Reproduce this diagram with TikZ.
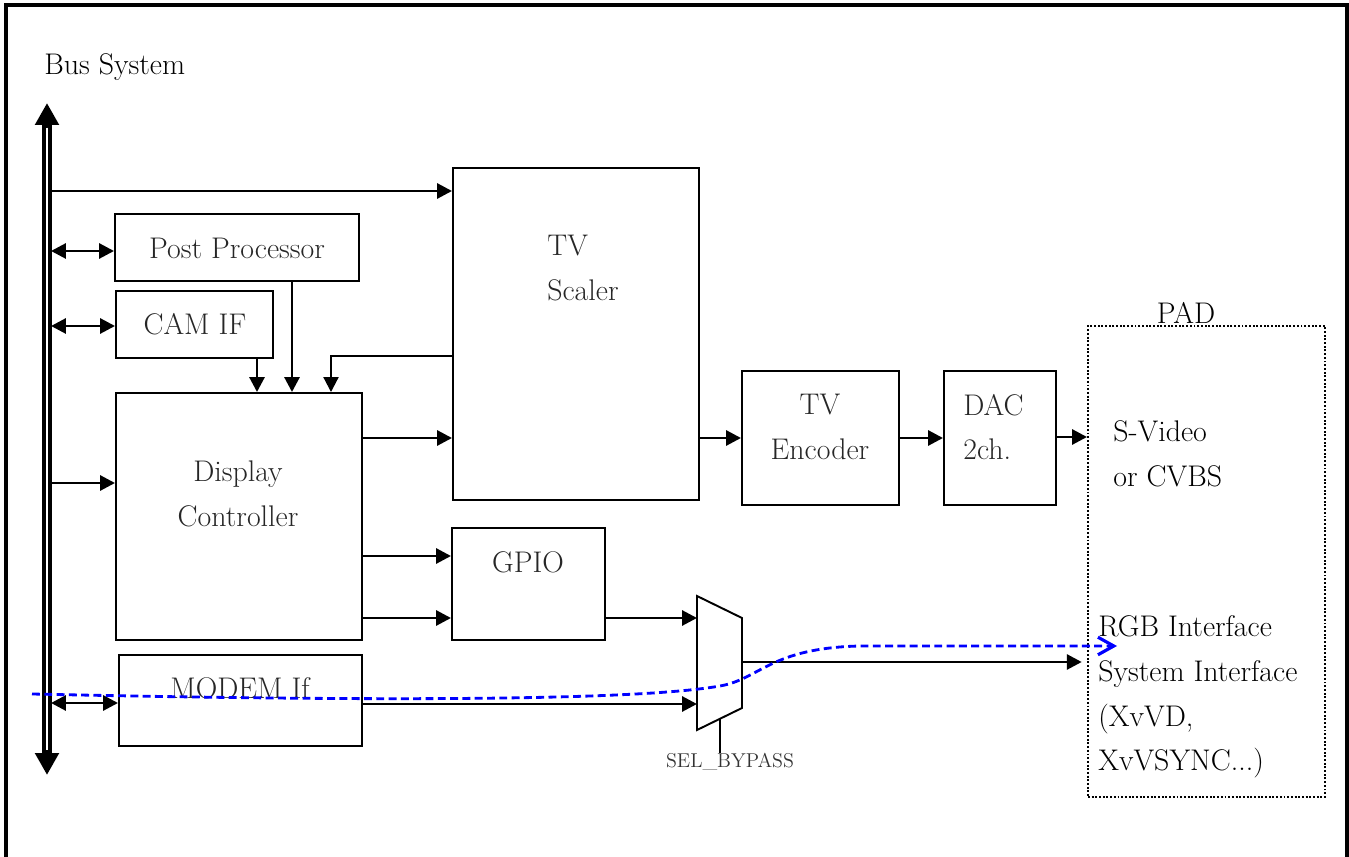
\documentclass[tikz,border=0pt]{standalone}
\usepackage{tikz}
\usetikzlibrary{arrows.meta,positioning,fit,calc}
\tikzset{
  box/.style={draw, line width=1.1pt, inner sep=0pt},
  lbl/.style={font=\fontsize{17}{25.5}\selectfont, text=black!85, inner sep=0pt, align=center},
  padtxt/.style={font=\fontsize{17}{25.5}\selectfont, inner sep=0pt, align=left, anchor=west},
  arr/.style={-{Triangle[length=8.5pt,width=8.5pt]}, line width=1.7pt},
  darr/.style={{Triangle[length=8.5pt,width=8.5pt]}-{Triangle[length=8.5pt,width=8.5pt]}, line width=1.7pt},
  bus/.style={{Triangle[length=12.5pt,width=13pt]}-{Triangle[length=12.5pt,width=13pt]}, line width=5.5pt},
  bypass/.style={blue, line width=1.6pt, dash pattern=on 4.5pt off 2.5pt, -{Straight Barb[length=9pt,width=10pt,line width=1.8pt]}}
}
\begin{document}
\begin{tikzpicture}[x=0.02cm, y=-0.02cm]
  \useasboundingbox (0,0) rectangle (1349,857);
  \draw[line width=2pt] (6,857) -- (6,5) -- (1347,5) -- (1347,857);

  % bus
  \node[font=\fontsize{17}{25.5}\selectfont, inner sep=0pt, anchor=west] (bustxt) at (44,67) {Bus System};
  \coordinate (bustop) at (47,103);
  \coordinate (busbot) at (47,775);
  \draw[bus] (bustop) -- (busbot);
  \draw[white, line width=0.6pt] ([yshift=-14pt]bustop) -- ([yshift=14pt]busbot);

  % blocks
  \node[box, fit={(115,214) (359,281)}] (pp) {};
  \node[lbl] (pptxt) at (237,248) {Post Processor};
  \node[box, fit={(116,291) (273,358)}] (cam) {};
  \node[lbl] (camtxt) at (195,324) {CAM IF};
  \node[box, fit={(116,393) (362,640)}] (dc) {};
  \node[lbl] (dctxt) at (238,494) {Display\\Controller};
  \node[box, fit={(119,655) (362,746)}] (modem) {};
  \node[lbl] (modemtxt) at (240,688) {MODEM If};
  \node[box, fit={(453,168) (699,500)}] (tvs) {};
  \node[lbl, align=left, anchor=west] (tvstxt) at (547,268) {TV\\Scaler};
  \node[box, fit={(452,528) (605,640)}] (gpio) {};
  \node[lbl] (gpiotxt) at (528,562) {GPIO};
  \node[box, fit={(742,371) (899,505)}] (enc) {};
  \node[lbl] (enctxt) at (820,427) {TV\\Encoder};
  \node[box, fit={(944,371) (1056,505)}] (dac) {};
  \node[lbl, align=left, anchor=west] (dactxt) at (963,427) {DAC\\2ch.};

  % pad
  \node[draw, densely dotted, line width=1.1pt, inner sep=0pt, fit={(1088,326) (1325,797)}] (pad) {};
  \node[font=\fontsize{17}{25.5}\selectfont, inner sep=0pt] (padtxt) at (1186,313) {PAD};
  \node[padtxt] (svid) at (1113,454) {S-Video\\or CVBS};
  \node[padtxt] (rgb) at (1098,697) {RGB Interface\\System Interface\\(XvVD,\\XvVSYNC...)};

  % mux
  \coordinate (muxa) at (697,618);
  \coordinate (muxb) at (697,704);
  \coordinate (muxo) at (742,662);
  \coordinate (muxs) at (720,719);
  \draw[line width=1.1pt, line join=miter] (697,596) -- (742,618) -- (742,708) -- (697,730) -- cycle;
  \node[font=\fontsize{11.4}{13}\selectfont, text=black!80, inner sep=0pt] (sel) at (730,762) {SEL\_BYPASS};

  % bus connections
  \coordinate (b0) at (51,191);
  \coordinate (b1) at (51,251);
  \coordinate (b2) at (51,326);
  \coordinate (b3) at (51,483);
  \coordinate (b4) at (51,703);
  \draw[arr] (b0) -- (b0 -| tvs.west);
  \draw[darr] (b1) -- (b1 -| pp.west);
  \draw[darr] (b2) -- (b2 -| cam.west);
  \draw[arr] (b3) -- (b3 -| dc.west);
  \draw[darr] (b4) -- (b4 -| modem.west);

  % into display controller
  \draw[arr] (cam.south -| 257,0) -- (dc.north -| 257,0);
  \draw[arr] (pp.south -| 292,0) -- (dc.north -| 292,0);
  \draw[arr, line width=1.2pt] (tvs.west |- 0,356) -| (dc.north -| 331,0);

  % out of display controller
  \draw[arr] (dc.east |- 0,438) -- (tvs.west |- 0,438);
  \draw[arr] (dc.east |- 0,556) -- (gpio.west |- 0,556);
  \draw[arr] (dc.east |- 0,618) -- (gpio.west |- 0,618);
  \draw[arr] (gpio.east |- muxa) -- (muxa);
  \draw[arr] (modem.east |- muxb) -- (muxb);
  \draw[arr, shorten >=3pt] (muxo) -- (pad.west |- muxo);
  \draw[line width=1.1pt] (muxs) -- (muxs |- sel.north);

  % tv path
  \draw[arr] (tvs.east |- 0,438) -- (enc.west |- 0,438);
  \draw[arr] (enc.east |- 0,438) -- (dac.west |- 0,438);
  \draw[arr] (dac.east |- 0,437) -- (pad.west |- 0,437);

  % bypass
  \coordinate (bstart) at (32,694);
  \coordinate (bend) at (1117,646);
  \draw[bypass] (bstart) .. controls (400,702) and (640,700) .. (720,686)
    .. controls (760,679) and (770,648) .. (860,646) -- (bend);
\end{tikzpicture}
\end{document}
